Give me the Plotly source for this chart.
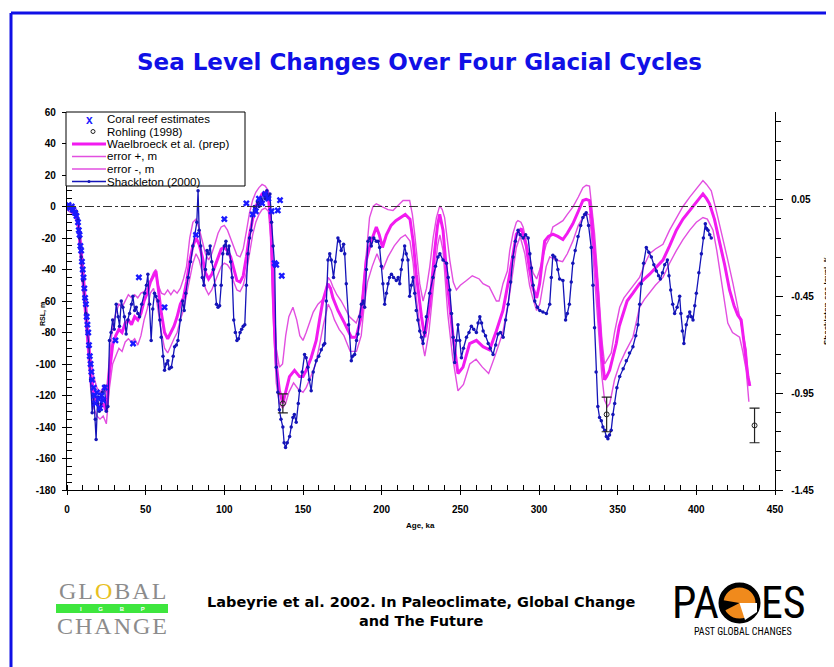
import plotly.graph_objects as go

# ---------------- DATA ----------------
shack_age = [0,1,2,3,4,5,6,7,8,9,10,11,12,13,14,15,16,17,18,18.5,19.5,20.5,21.7,22.5,23.8,25,26,27,28,29,30,31.3,32.5,33.4,34.5,35.5,36.5,37.6,38.7,39.8,41,41.9,43,44,45,46.1,47.5,49.3,50.5,51.4,52.5,53.5,54.5,55.6,56.5,57.8,59,59.9,61,62,63,64.1,65,66.3,67.5,68.4,69.5,70.5,72,73.5,74.5,75.5,77,78.5,80,81.5,82.5,83.3,84,85,86,87,88,89,90,91,92,93,94,95,96,97,98,99,100,101,102,103,104,105,106,107,108,109,110,111,112,113,114,115,116,117,118,119,120,121,122,123,124,125,126,127,128,129,130,131,132,133,134,135,136,137.2,138,138.9,140,141.5,142.5,143.6,144.5,145.7,147,147.8,149.5,151,152,153.1,154,155.2,156.5,158.4,160,161.6,163,163.8,164.8,165.9,167,168,169.4,170.5,172.2,173.2,174.3,175.8,176.5,177.5,179,180.7,181.5,182.8,184,184.9,186,187.1,188.2,189.2,190.3,191.3,192.4,193.4,195,196.6,197.7,198.7,199.8,200.8,201.9,203,204,205,206.2,207.5,209.3,210.5,211.5,212.4,213.2,214.6,215.6,216.7,217.8,218.8,219.9,221,222,223,224.2,225.3,226.3,227.3,228.4,230.5,232.6,234.2,235.8,237,239,241.2,242.3,243.3,244.4,245.4,246.4,247.5,248.5,249.6,250.7,252,253.9,255.5,257,258.5,260.2,261.3,262.4,263.5,264.5,266,267.7,269,270.8,272.5,274,275.5,277.2,278.8,280.4,282,283.5,285,286.7,288,289.9,291.5,293.1,294.2,295.2,296.3,297.3,299,300.5,302.5,304.7,306.8,307.8,308.8,310,311,312,313.1,315.2,316.9,318,319.3,320.5,321.5,323,324.8,326.5,327.9,329,330,331.5,333.2,334.3,335.3,336.3,337.4,338.5,339.6,340.6,341.7,342.8,343.8,344.8,345.9,347,348.1,349.5,351.3,353.5,355.5,357.5,359.7,361.5,362.9,364,365,366.5,368.2,369.8,371.4,373,374.6,376,377.1,378.5,379.9,381.6,382.6,383.7,385,386.2,387.8,389.4,390.2,391.1,392.1,393.6,394.7,395.8,396.8,397.9,399,400,401.6,403.2,404.5,405.7,406.5,407.4,408.5,409.5]
shack_rsl = [0,-1,0,-3,-2,-5,-3,-8,-20,-32,-47,-58,-68,-80,-89,-110,-131,-120,-135,-148,-121,-130,-125,-118,-114,-130,-127,-85,-80,-72,-78,-62,-70,-76,-60,-64,-70,-81,-72,-68,-62,-57,-66,-64,-68,-70,-62,-55,-50,-43,-62,-85,-65,-55,-57,-60,-72,-83,-95,-104,-100,-98,-103,-102,-95,-89,-88,-85,-72,-60,-66,-55,-45,-35,-25,-18,-10,10,-15,-25,-45,-50,-40,-28,-30,-25,-35,-40,-50,-62,-64,-63,-50,-30,-25,-22,-30,-25,-35,-45,-72,-80,-85,-84,-80,-78,-76,-75,-50,-30,-20,-15,-5,0,-3,3,0,5,2,8,5,10,6,8,-10,-25,-38,-102,-118,-129,-135,-140,-150,-153,-150,-146,-140,-134,-132,-137,-125,-117,-105,-94,-96,-102,-110,-117,-105,-98,-95,-91,-88,-87,-60,-34,-30,-34,-45,-35,-20,-22,-28,-24,-30,-49,-75,-98,-95,-94,-85,-81,-70,-62,-60,-64,-40,-22,-20,-25,-20,-22,-22,-26,-38,-49,-62,-55,-49,-45,-43,-45,-47,-45,-49,-40,-34,-25,-30,-34,-57,-50,-45,-55,-66,-72,-79,-83,-87,-80,-70,-55,-45,-38,-32,-30,-34,-36,-45,-53,-68,-83,-99,-85,-75,-85,-96,-90,-83,-80,-76,-78,-80,-74,-70,-74,-79,-82,-87,-90,-94,-88,-81,-80,-83,-72,-62,-48,-32,-22,-15,-18,-20,-18,-20,-30,-39,-50,-60,-64,-66,-67,-68,-62,-45,-31,-32,-34,-40,-46,-47,-72,-68,-62,-48,-36,-28,-19,-12,-7,-5,-4,-12,-26,-50,-77,-105,-127,-134,-136,-140,-142,-146,-147.5,-145,-142,-132,-125,-115,-108,-103,-98,-93,-89,-82,-75,-62,-49,-36,-26,-29,-32,-37,-41,-44,-46,-42,-37,-34,-44,-53,-62,-68,-64,-57,-68,-79,-87,-75,-70,-67,-70,-72,-63,-55,-42,-30,-20,-11,-14,-15,-18,-20]

wael_age = [0,3,5,7,9,11,13,15,17,19,21,23,25,27,29,31,33,35,37,39,41,43,45,47,49,51,53,55,56.5,58,60,62,64,66,68,70,72,74,76,78,80,82,84,86,88,90,92,94,96,98,100,102,104,106,108,110,112,114,116,118,120,122,124,126,128,129.5,130.8,132,133,135,137.2,139.3,141.4,144.6,147.8,150,152,155.2,158.4,160.5,162.6,165.8,167.5,169,172.2,176.4,180.7,183.8,187,188.5,190.2,193.4,196.6,198.5,200.5,203,206,209,212,215,218,220,222,225.3,227.4,230.6,233.7,235.5,236.9,239,242.2,245.4,248.5,251.7,255.9,260.2,264.4,268.6,272.9,277.1,281.4,285.6,288.8,291.9,294,296.2,298.5,300.4,302,303.6,306,308.8,312,315.2,318,321.5,325,327.9,330,332.1,333.5,335.3,337,338.5,340,341.7,343,344.9,347,349.1,351,353.3,356,359.7,363.9,367,370.3,374,378.8,383,387.3,391.5,395.8,400,404.2,406.5,408.4,411.5,414.8,418,421.1,424,426.4,428.5,430.5,432.8,434]
wael_rsl = [0,-2,-5,-10,-30,-55,-80,-105,-118,-125,-128,-125,-130,-105,-88,-82,-78,-80,-74,-72,-75,-70,-72,-68,-60,-55,-48,-44,-41,-52,-68,-80,-84,-80,-76,-70,-62,-58,-48,-35,-25,-20,-24,-32,-42,-46,-43,-38,-32,-27,-26,-28,-32,-40,-47,-48,-44,-32,-18,-8,0,4,8,9,6,-10,-49,-80,-100,-117,-125,-117,-108,-104,-108,-108,-104,-96,-85,-72,-60,-49,-52,-58,-66,-74,-83,-83,-70,-52,-34,-22,-13,-18,-26,-18,-12,-9,-7,-5,-8,-22,-43,-70,-83,-62,-28,-12,-5,-15,-53,-83,-106,-102,-87,-85,-89,-91,-79,-66,-43,-17.5,-14,-25,-40,-52,-58,-49,-35,-22,-19,-17.5,-19,-21,-17,-11,-3,3.8,4.5,3.8,-8,-28,-50,-74,-95,-110,-108,-104,-95,-87,-76,-68,-60,-55,-49,-46,-43,-39,-34,-25,-15,-8,-2.5,3,8,5,1.7,-8,-22,-37,-53,-63,-69,-72,-88,-108,-114]

errp_age = [0,5,7,9,11,13,15,17,19,21,23,25,27,29,31,33,35,37,39,41,43,45,47,49,51,53,55,56.5,58,60,62,64,66,68,70,72,74,76,78,80,82,84,86,88,90,92,94,96,98,100,102,104,106,108,110,112,114,116,118,120,122,124,126,128,129.5,130.8,132,133,135,137,139,141,143.6,146,148,150,152,154,156.5,159.5,161.5,163.7,166,167.5,169,171.5,174.3,177,179.6,183.8,186,188,190,192.3,194.5,196.6,200.8,204,207.2,210.5,213.6,217.8,219.5,221,224.2,226.3,228.5,230.6,232.7,234.8,236.9,238.5,240,243.3,245.5,247.5,250,253.9,257.6,262,264.4,268.4,270.5,272.9,274.6,277.1,279.9,281.4,283.5,285.6,286.6,288.5,289.9,292,294.1,296.2,298.5,300.5,302.5,304.6,306.8,308.8,312,315.2,318,321.5,325,327.9,330,332.1,333.5,335.3,337,338.5,340,341.7,343.5,345.9,348,351.3,354,357.6,360.5,363.9,367,370.3,374,378.8,383,387.3,391.5,395.8,400,404.2,406.5,409.5,413,416.9,420,423.3,425.5,427.5,429.5,431.7,432.8,434]
errp_rsl = [2,0,-5,-22,-45,-70,-95,-108,-115,-118,-115,-118,-95,-75,-68,-62,-64,-60,-56,-58,-56,-58,-55,-54,-52,-47,-42,-40,-50,-55,-56,-53,-56,-53,-55,-52,-46,-38,-20,-10,-8,-14,-22,-30,-34,-30,-24,-17,-13,-12,-15,-20,-26,-31,-32,-27,-16,-4,4,9,12,14,13,10,0,-30,-65,-90,-102,-100,-82,-70,-64,-72,-82,-85,-80,-74,-67,-62,-60,-58,-45,-47,-51,-56,-60,-65,-70,-74,-68,-55,-30,-7,0,1.7,-0.4,-2,-2.5,1,3.8,3.8,-5,-17.5,-49,-60,-52,-38,-20,-7,0.4,-2,-7,-34,-48,-53,-50,-47,-44,-46,-49,-51,-55,-60,-60,-49,-41,-28,-17,-10,-8.9,-10,-13,-22,-32,-42,-46,-40,-32,-24,-20,-13,-11,-9,-5,-0.4,6,12,13.5,13,0,-17,-40,-64,-85,-100,-97,-93,-80,-64,-58,-53,-49,-45,-37,-30,-27,-24,-15,-7,0,6,11,16.5,14,10,-4,-20,-34,-49,-60,-68,-78,-91,-108,-112]

errm_age = [0,5,7,9,11,13,15,17,19,21,23,25,27,29,31,33,35,37,39,41,43,45,47,49,51,53,55,57,60,62,64,66,68,70,72,74,76,78,80,82,84,86,88,90,92,94,96,98,100,102,104,106,108,110,112,114,116,118,120,122,124,126,128,129.5,130.8,132,133,135,137,139,141,144,147,150,152,155,158,160.5,163,166,168,170,173,176,180,184,187,189,191,194,197,199,200.8,204,208,212,215,218,220,222,225,227.4,230,233.5,235.5,237,239,242,245,248.5,252,256,260,264,268,272,277,281,285.6,288,291,294,296,298.5,300.5,302.5,304.6,306.8,311,315,318,321.5,325,327.9,330,332.1,333.5,335.3,337,338.5,340,341.7,343.5,345,348,351.3,355,359.7,362,363.9,367,370.3,374,378.8,383,387.3,391.5,395.8,400,404.2,407,410.6,413,415.9,418,420,423,427.5,429.5,431.7,433.4]
errm_rsl = [-2,-6,-14,-38,-65,-90,-115,-128,-133,-135,-133,-138,-115,-100,-95,-90,-92,-86,-84,-86,-84,-88,-82,-72,-65,-55,-52,-60,-80,-90,-93,-88,-84,-80,-72,-66,-56,-44,-36,-30,-34,-42,-52,-56,-53,-48,-43,-38,-36,-37,-40,-48,-53,-54,-50,-42,-30,-18,-10,-5,-2,-1,-3,-20,-65,-95,-112,-125,-128,-125,-118,-112,-116,-118,-115,-108,-100,-88,-75,-62,-66,-72,-78,-82,-92,-92,-82,-62,-48,-38,-30,-35,-40,-32,-25,-20,-18,-22,-36,-58,-82,-95,-80,-45,-25,-18,-28,-68,-95,-117,-113,-100,-97,-102,-106,-95,-80,-58,-26,-19,-30,-50,-58,-66,-62,-50,-38,-32,-34,-35,-30,-22,-12,-7,-5,-5,-20,-45,-68,-87,-108,-123,-127,-125,-110,-100,-92,-83,-72,-64,-59,-55,-50,-45,-36,-28,-21,-15,-10,-7,-8,-15,-28,-47,-62,-74,-80,-83,-92,-104,-124]

coral_age = [0,1,2,3,4,5,6,7,7.5,8,8.5,9,9.5,10,10.5,11,11.5,12,12.5,13,13.5,14,14.5,15,15.5,16,17,17.5,18,19,20,21,22,23,24,30.8,42,45.7,62,82,100,114,118,120,122,124,126,128,130,132,133,134,135.4,136.5]
coral_rsl = [0,1,-1,0,-2,-4,-6,-10,-15,-18,-25,-28,-35,-40,-45,-52,-58,-62,-70,-75,-80,-88,-95,-100,-105,-110,-115,-120,-125,-118,-122,-128,-120,-123,-115,-85,-87,-45,-64,-18,-8,2,-5,-3,5,2,8,5,-3,-36,-37,-2.5,4,-44]

rohling_age = [137.2, 343, 437]
rohling_rsl = [-125, -132, -139]
rohling_err = [6, 11, 11]

left_tick_vals = [60, 40, 20, 0, -20, -40, -60, -80, -100, -120, -140, -160, -180]
left_tick_text = ["60", "40", "20", "0", "-20", "-40", "-60", "-80", "-100", "-120", "-140", "-160", "-180"]
right_tick_vals = [0.05, -0.45, -0.95, -1.45]
right_tick_text = ["0.05", "-0.45", "-0.95", "-1.45"]
x_tick_vals = [0, 50, 100, 150, 200, 250, 300, 350, 400, 450]

legend_labels = ["Coral reef estimates", "Rohling (1998)", "Waelbroeck et al. (prep)",
                 "error +, m", "error -, m", "Shackleton (2000)"]

# ---------------- STYLE ----------------
MAG = "#f21bf0"
MAG_THIN = "#e24fe0"
NAVY = "#1414b8"
CORAL = "#1a1aff"
TITLE_BLUE = "#1010e6"
FONT = "Liberation Sans, Arial, sans-serif"
WIDE = "DejaVu Sans, Liberation Sans, sans-serif"
SERIF = "Liberation Serif, Times New Roman, serif"
NARROW = "Liberation Sans Narrow, Roboto Condensed, Liberation Sans, sans-serif"

# the page body adds an 8px offset; screen-pixel layout targets below
OFF = 8
PL, PR, PT, PB = 67, 775, 112, 490          # plot area in screen pixels
W, H = 834 - OFF, 667 - OFF
L, T = PL - OFF, PT - OFF
R, B = W - (PR - OFF), H - (PB - OFF)
PW, PH = PR - PL, PB - PT


def px(x):
    return (x - PL) / PW


def py(y):
    return (PB - y) / PH


fig = go.Figure()

fig.add_trace(go.Scatter(x=errp_age, y=errp_rsl, mode="lines",
                         line=dict(color=MAG_THIN, width=1.4), showlegend=False))
fig.add_trace(go.Scatter(x=errm_age, y=errm_rsl, mode="lines",
                         line=dict(color=MAG_THIN, width=1.4), showlegend=False))
fig.add_trace(go.Scatter(x=wael_age, y=wael_rsl, mode="lines",
                         line=dict(color=MAG, width=3), showlegend=False))
fig.add_trace(go.Scatter(x=shack_age, y=shack_rsl, mode="lines+markers",
                         line=dict(color=NAVY, width=1.3),
                         marker=dict(color=NAVY, size=3.5), showlegend=False))
fig.add_trace(go.Scatter(x=coral_age, y=coral_rsl, mode="markers",
                         marker=dict(symbol="x", color=CORAL, size=6,
                                     line=dict(width=0)), showlegend=False))
fig.add_trace(go.Scatter(x=rohling_age, y=rohling_rsl, mode="markers",
                         marker=dict(symbol="circle-open", color="#222", size=5,
                                     line=dict(width=1)),
                         error_y=dict(type="data", array=rohling_err, color="#222",
                                      thickness=1.2, width=5),
                         showlegend=False))
# right axis carrier
fig.add_trace(go.Scatter(x=[None], y=[None], yaxis="y2", showlegend=False))

shapes = []
annotations = []

# zero line (dash-dot)
shapes.append(dict(type="line", xref="paper", yref="y", x0=0, x1=1, y0=0, y1=0,
                   line=dict(color="#333", width=1, dash="dashdot")))

# blue frame
shapes.append(dict(type="line", xref="paper", yref="paper",
                   x0=px(11), x1=px(840), y0=py(13), y1=py(13),
                   line=dict(color=TITLE_BLUE, width=3)))
shapes.append(dict(type="line", xref="paper", yref="paper",
                   x0=px(11), x1=px(11), y0=py(13), y1=py(672),
                   line=dict(color=TITLE_BLUE, width=3)))

# manual legend
shapes.append(dict(type="rect", xref="paper", yref="paper",
                   x0=px(66), x1=px(245), y0=py(186), y1=py(112),
                   line=dict(color="black", width=1), fillcolor="white", layer="above"))
row_y = [119, 131.5, 144, 156.5, 169, 181.5]
for i, lab in enumerate(legend_labels):
    annotations.append(dict(xref="paper", yref="paper", x=px(106), y=py(row_y[i]),
                            text=lab, showarrow=False, xanchor="left", yanchor="middle",
                            borderpad=0,
                            font=dict(family=FONT, size=11.5, color="black")))
annotations.append(dict(xref="paper", yref="paper", x=px(89), y=py(row_y[0] + 0.5),
                        text="<b>x</b>", showarrow=False, xanchor="center", yanchor="middle",
                        borderpad=0,
                        font=dict(family=FONT, size=12, color=CORAL)))
shapes.append(dict(type="circle", xref="paper", yref="paper",
                   x0=px(91), x1=px(95), y0=py(row_y[1] + 2), y1=py(row_y[1] - 2),
                   line=dict(color="#222", width=1), layer="above"))
for i, (c, w) in zip([2, 3, 4, 5], [(MAG, 3), (MAG_THIN, 1.4), (MAG_THIN, 1.4), (NAVY, 1.3)]):
    shapes.append(dict(type="line", xref="paper", yref="paper",
                       x0=px(72), x1=px(106), y0=py(row_y[i]), y1=py(row_y[i]),
                       line=dict(color=c, width=w), layer="above"))
shapes.append(dict(type="circle", xref="paper", yref="paper", fillcolor=NAVY,
                   x0=px(87.5), x1=px(90.5), y0=py(row_y[5] + 1.5), y1=py(row_y[5] - 1.5),
                   line=dict(color=NAVY, width=0), layer="above"))

# title
annotations.append(dict(xref="paper", yref="paper", x=px(419), y=py(62),
                        text="<b>Sea Level Changes Over Four Glacial Cycles</b>",
                        showarrow=False, xanchor="center", yanchor="middle",
                        font=dict(family=WIDE, size=23, color=TITLE_BLUE)))

# axis titles
annotations.append(dict(xref="paper", yref="paper", x=px(420), y=py(525),
                        text="<b>Age, ka</b>", showarrow=False, xanchor="center",
                        yanchor="middle", font=dict(family=FONT, size=8, color="black")))
annotations.append(dict(xref="paper", yref="paper", x=px(43), y=py(314),
                        text="<b>RSL, m</b>", showarrow=False, textangle=-90,
                        xanchor="center", yanchor="middle", borderpad=0,
                        font=dict(family=FONT, size=7, color="black")))
annotations.append(dict(xref="paper", yref="paper", x=px(826), y=py(300),
                        text="<b>Shackleton sea level, ‰</b>", showarrow=False, textangle=-90,
                        xanchor="center", yanchor="middle", borderpad=0,
                        font=dict(family=FONT, size=8, color="black")))

# citation
annotations.append(dict(xref="paper", yref="paper", x=px(421), y=py(611),
                        text="<b>Labeyrie et al. 2002. In Paleoclimate, Global Change<br>and The Future</b>",
                        showarrow=False, xanchor="center", yanchor="middle",
                        font=dict(family=WIDE, size=14.5, color="black")))

# GLOBAL CHANGE logo
HS = "\u200a"
annotations.append(dict(xref="paper", yref="paper", x=px(112), y=py(605),
                        text=HS.join(["G", "L", '<span style="color:#e8c020">O</span>', "B", "A", "L"]),
                        showarrow=False, xanchor="center", yanchor="bottom", borderpad=0,
                        font=dict(family=SERIF, size=24, color="#8c8c8c")))
shapes.append(dict(type="rect", xref="paper", yref="paper",
                   x0=px(56), x1=px(168), y0=py(613), y1=py(604),
                   line=dict(width=0), fillcolor="#3ee63e"))
annotations.append(dict(xref="paper", yref="paper", x=px(112), y=py(608.5),
                        text="<b>I          G          B          P</b>", showarrow=False,
                        xanchor="center", yanchor="middle", borderpad=0,
                        font=dict(family=FONT, size=6, color="white")))
annotations.append(dict(xref="paper", yref="paper", x=px(112), y=py(612),
                        text=HS.join(list("CHANGE")), showarrow=False, xanchor="center",
                        yanchor="top", borderpad=0,
                        font=dict(family=SERIF, size=24, color="#8c8c8c")))

# PAGES logo
annotations.append(dict(xref="paper", yref="paper", x=px(721), y=py(603),
                        text="PA", showarrow=False, xanchor="right", yanchor="middle",
                        font=dict(family=NARROW, size=44, color="black")))
annotations.append(dict(xref="paper", yref="paper", x=px(759), y=py(603),
                        text="ES", showarrow=False, xanchor="left", yanchor="middle",
                        font=dict(family=NARROW, size=44, color="black")))
shapes.append(dict(type="circle", xref="paper", yref="paper",
                   x0=px(721), x1=px(758), y0=py(621), y1=py(585),
                   line=dict(color="black", width=5), fillcolor="#f08a1c"))
shapes.append(dict(type="path", xref="paper", yref="paper",
                   path=f"M {px(739.5)} {py(603)} L {px(722)} {py(600)} L {px(722)} {py(612)} Z",
                   line=dict(width=0), fillcolor="black"))
shapes.append(dict(type="path", xref="paper", yref="paper",
                   path=f"M {px(739.5)} {py(603)} L {px(757)} {py(603)} L {px(757)} {py(612)} L {px(745)} {py(620)} Z",
                   line=dict(width=0), fillcolor="white"))
annotations.append(dict(xref="paper", yref="paper", x=px(743), y=py(631),
                        text="PAST GLOBAL CHANGES", showarrow=False, xanchor="center",
                        yanchor="middle",
                        font=dict(family=NARROW, size=10, color="black")))

tickfont = dict(family=FONT, size=10, color="black", weight="bold")

fig.update_layout(
    width=W, height=H,
    margin=dict(l=L, r=R, t=T, b=B, autoexpand=False),
    paper_bgcolor="white", plot_bgcolor="white",
    showlegend=False,
    shapes=shapes, annotations=annotations,
    xaxis=dict(range=[0, 450], tickvals=x_tick_vals, showgrid=False, zeroline=False,
               showline=True, linecolor="black", linewidth=1.3,
               ticks="outside", ticklen=4, tickcolor="black", tickwidth=1.2,
               minor=dict(dtick=10, tick0=0, ticks="inside", ticklen=5,
                          tickcolor="black", tickwidth=1, showgrid=False),
               tickfont=tickfont, ticklabelstandoff=6, fixedrange=True),
    yaxis=dict(range=[-180, 60], tickvals=left_tick_vals, ticktext=left_tick_text,
               showgrid=False, zeroline=False,
               showline=True, linecolor="black", linewidth=1.3,
               ticks="outside", ticklen=4, tickcolor="black", tickwidth=1.2,
               minor=dict(dtick=5, tick0=0, ticks="inside", ticklen=5,
                          tickcolor="black", tickwidth=1, showgrid=False),
               tickfont=tickfont, ticklabelstandoff=4, fixedrange=True),
    yaxis2=dict(range=[-1.45, 0.5], overlaying="y", side="right",
                tickvals=right_tick_vals, ticktext=right_tick_text,
                showgrid=False, zeroline=False,
                showline=True, linecolor="black", linewidth=1.3,
                ticks="outside", ticklen=7, tickcolor="black", tickwidth=1.2,
                minor=dict(dtick=0.1, tick0=0.05, ticks="outside", ticklen=5,
                           tickcolor="black", tickwidth=1, showgrid=False),
                tickfont=tickfont, ticklabelstandoff=6, fixedrange=True),
)

fig.write_html("out.html")
